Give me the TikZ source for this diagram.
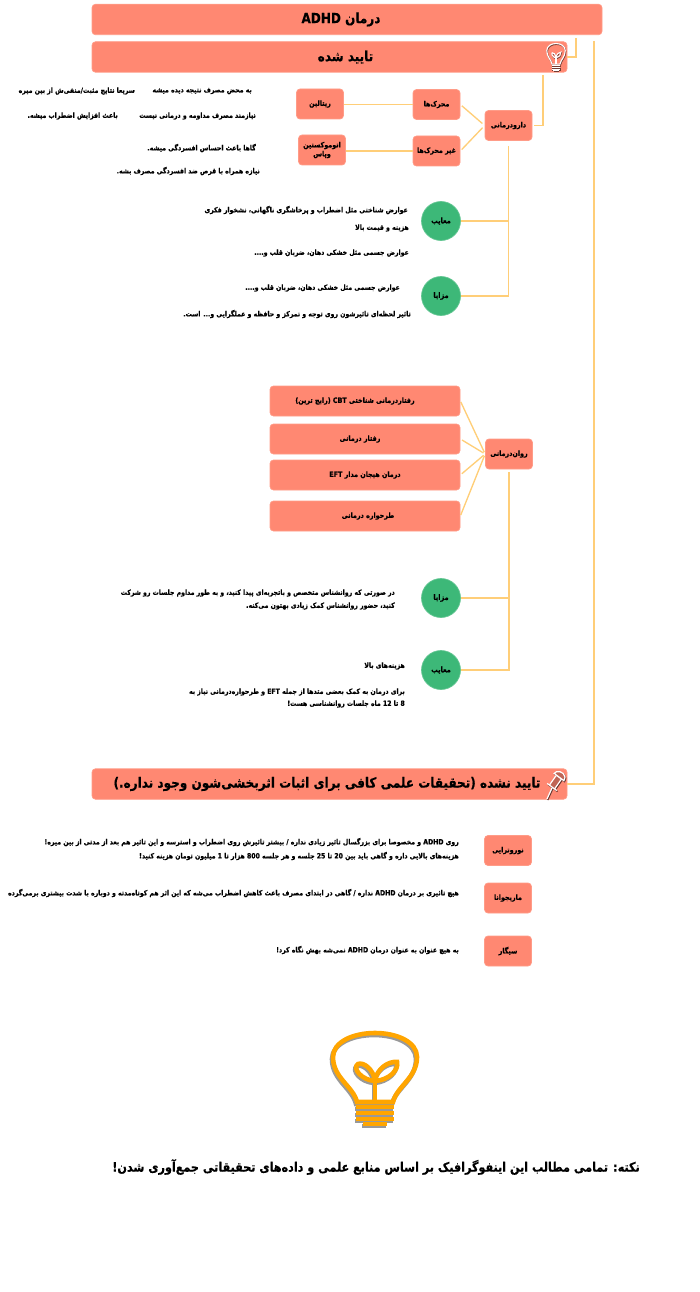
\documentclass[tikz,border=0pt]{standalone}
\usepackage{fontspec}
\TeXXeTstate=1
\newfontfamily\fafont[Script=Arabic,FakeStretch=0.86,BoldFeatures={FakeBold=0.4}]{DejaVu Sans}
\newcommand{\fatxt}[1]{\beginR #1\endR{}}
\newcommand{\latn}[1]{\beginL #1\endL{}}
\definecolor{boxfill}{HTML}{FF8872}
\definecolor{boxedge}{HTML}{FF9C88}
\definecolor{roundfill}{HTML}{3DB878}
\definecolor{linkcol}{HTML}{FFCE78}
\definecolor{bulbcol}{HTML}{FFA500}
\tikzset{
    boxbase/.style={rectangle,rounded corners=3.5pt,fill=boxfill,draw=boxedge,line width=0.7pt,inner sep=0pt,align=center,text=black,font=\fafont\bfseries\fontsize{7.4}{9}\selectfont},
    smallbox/.style={boxbase,minimum width=47pt,minimum height=30pt},
    widebox/.style={boxbase,minimum width=190pt,minimum height=30pt},
    titlebox/.style={boxbase,minimum height=30.5pt,font=\fafont\bfseries\fontsize{14}{16}\selectfont},
    roundbox/.style={circle,fill=roundfill,draw=roundfill!80!white,line width=0.7pt,minimum size=39pt,inner sep=0pt,text=black,font=\fafont\bfseries\fontsize{7.6}{9}\selectfont},
    txtline/.style={anchor=east,inner sep=0pt,text=black,font=\fafont\bfseries\fontsize{7.2}{9}\selectfont},
    link/.style={draw=linkcol,line width=1.35pt},
    bulb/.pic={
        \draw[pic actions] (-18,24) .. controls (-22,8) and (-42,0) .. (-42,-21) .. controls (-42,-36) and (-22,-45) .. (0,-45) .. controls (22,-45) and (42,-36) .. (42,-21) .. controls (42,0) and (22,8) .. (18,24) -- cycle;
        \draw[pic actions] (0,24) -- (0,3);
        \draw[pic actions] (0,3) .. controls (-2,-10) and (-12,-16) .. (-17,-14) .. controls (-23,-10) and (-14,2) .. (0,3);
        \draw[pic actions] (0,3) .. controls (2,-10) and (14,-17) .. (22,-16) .. controls (24,-8) and (14,2) .. (0,3);
        \draw[pic actions] (-19,29) -- (19,29);
        \draw[pic actions] (-19,35) -- (19,35);
        \draw[pic actions] (-19,41) -- (19,41);
        \draw[pic actions] (-12,46) -- (12,46);
    },
    pushpin/.pic={
        \draw[pic actions] (-9,15) -- (-4,4);
        \draw[pic actions] (-6.5,1) -- (0.5,-9) -- (5.5,-5) -- (-1.5,5);
        \draw[pic actions] (-8.8,-0.6) -- (0.8,6.6);
        \draw[pic actions] (-1.8,-10.6) .. controls (0,-14) and (8,-13) .. (9,-7) .. controls (9,-5) and (8,-4) .. (7.8,-3.4) -- cycle;
    },
}
\begin{document}
\begin{tikzpicture}[x=1pt,y=-1pt]
    \useasboundingbox (0,0) rectangle (700,1292);
    % title bars
    \node[titlebox,minimum width=510pt] (root) at (347,19.5) {\fatxt{درمان \latn{ADHD}}\hspace*{12pt}};
    \node[titlebox,minimum width=475pt] (conf) at (329.5,57) {\hspace*{32pt}\fatxt{تایید شده}};
    \node[titlebox,minimum width=475pt] (nconf) at (329.5,784) {\fatxt{تایید نشده (تحقیقات علمی کافی برای اثبات اثربخشی‌شون وجود نداره.)}\hspace*{5pt}};
    \coordinate (rootdrop) at (576,38);
    \coordinate (rootfar) at (594,41);
    \coordinate (conffar) at (543,75);
    \draw[link] (rootdrop) |- (conf.east);
    \draw[link] (rootfar) |- (nconf.east);
    % icons
    \path (374,1080) pic[draw=black!40,line width=4.6pt] {bulb};
    \path (375,1078) pic[draw=bulbcol,line width=4.6pt] {bulb};
    \path (556.5,57.8) pic[draw=black!55!boxfill,line width=1.2pt,x=0.22pt,y=-0.3pt] {bulb};
    \path (556,57) pic[draw=white,line width=1.1pt,x=0.22pt,y=-0.3pt] {bulb};
    \path (556.7,785) pic[draw=black!60!boxfill,line width=1.3pt] {pushpin};
    \path (556,784) pic[draw=white,fill=black!25!boxfill,line width=1.2pt] {pushpin};
    % drug branch
    \node[smallbox] (drug) at (508.5,125.5) {\fatxt{دارودرمانی}};
    \node[smallbox] (stim) at (436.5,104.5) {\fatxt{محرک‌ها}};
    \node[smallbox] (nstim) at (436.5,151) {\fatxt{غیر محرک‌ها}};
    \node[smallbox] (rital) at (320,104) {\fatxt{ریتالین}};
    \node[smallbox] (atom) at (322,150) {\fatxt{اتوموکستین}\\\fatxt{وپاس}};
    \node[roundbox] (consA) at (441,221) {\fatxt{معایب}};
    \node[roundbox] (prosA) at (441,296) {\fatxt{مزایا}};
    \draw[link,shorten >=2pt] (conffar) |- (drug.east);
    \draw[link,shorten <=3pt,shorten >=2pt] (drug.west) -- (stim.east);
    \draw[link,shorten <=3pt,shorten >=2pt] (drug.west) -- (nstim.east);
    \draw[link] (stim.west) -- (stim.west -| rital.east);
    \draw[link] (nstim.west) -- (nstim.west -| atom.east);
    \draw[link,shorten <=5pt] (drug.south) |- (prosA.east);
    \draw[link] (consA.east) -- (consA.east -| drug.south);
    \node[txtline] (ta) at (252,91) {\fatxt{به محض مصرف نتیجه دیده میشه}};
    \node[txtline] (tb) at (135,91) {\fatxt{سریعا نتایج مثبت/منفی‌ش از بین میره}};
    \node[txtline] (tc) at (256,116) {\fatxt{نیازمند مصرف مداومه و درمانی نیست}};
    \node[txtline] (td) at (118,116) {\fatxt{باعث افزایش اضطراب میشه.}};
    \node[txtline] (te) at (256,148) {\fatxt{گاها باعث احساس افسردگی میشه.}};
    \node[txtline] (tf) at (260,171) {\fatxt{نیازه همراه با قرص ضد افسردگی مصرف بشه.}};
    \node[txtline] (tg) at (408,210) {\fatxt{عوارض شناختی مثل اضطراب و پرخاشگری ناگهانی، نشخوار فکری}};
    \node[txtline] (th) at (409,228) {\fatxt{هزینه و قیمت بالا}};
    \node[txtline] (ti) at (409,253) {\fatxt{عوارض جسمی مثل خشکی دهان، ضربان قلب و....}};
    \node[txtline] (tj) at (400,288) {\fatxt{عوارض جسمی مثل خشکی دهان، ضربان قلب و....}};
    \node[txtline] (tk) at (411,314) {\fatxt{تاثیر لحظه‌ای تاثیرشون روی توجه و تمرکز و حافظه و عملگرایی و... است.}};
    % therapy branch
    \node[smallbox] (psy) at (509,454) {\fatxt{روان‌درمانی}};
    \node[widebox] (cbt) at (365,401) {\fatxt{رفتاردرمانی شناختی \latn{CBT} (رایج ترین)}\hspace*{20pt}};
    \node[widebox] (behav) at (365,439) {\fatxt{رفتار درمانی}\hspace*{10pt}};
    \node[widebox] (eft) at (365,475) {\fatxt{درمان هیجان مدار \latn{EFT}}};
    \node[widebox] (schema) at (365,516) {\hspace*{6pt}\fatxt{طرحواره درمانی}};
    \node[roundbox] (prosB) at (441,598) {\fatxt{مزایا}};
    \node[roundbox] (consB) at (441,670) {\fatxt{معایب}};
    \draw[link,shorten <=2pt,shorten >=1pt] (psy.west) -- (cbt.east);
    \draw[link,shorten <=2pt,shorten >=2pt] (psy.west) -- (behav.east);
    \draw[link,shorten <=2pt,shorten >=2pt] (psy.west) -- (eft.east);
    \draw[link,shorten <=2pt,shorten >=1pt] (psy.west) -- (schema.east);
    \draw[link,shorten <=3pt] (psy.south) |- (consB.east);
    \draw[link] (prosB.east) -- (prosB.east -| psy.south);
    \node[txtline] (tl) at (395,593) {\fatxt{در صورتی که روانشناس متخصص و باتجربه‌ای پیدا کنید، و به طور مداوم جلسات رو شرکت}};
    \node[txtline] (tm) at (395,606) {\fatxt{کنید، حضور روانشناس کمک زیادی بهتون می‌کنه.}};
    \node[txtline] (tn) at (405,666) {\fatxt{هزینه‌های بالا}};
    \node[txtline] (to) at (405,692) {\fatxt{برای درمان به کمک بعضی متدها از جمله \latn{EFT} و طرحواره‌درمانی نیاز به}};
    \node[txtline] (tp) at (405,704) {\fatxt{\latn{8} تا \latn{12} ماه جلسات روانشناسی هست!}};
    % not confirmed
    \node[smallbox] (neuro) at (508,850.5) {\fatxt{نوروترایی}};
    \node[smallbox] (mari) at (508,898) {\fatxt{ماریجوانا}};
    \node[smallbox] (smoke) at (508,951) {\fatxt{سیگار}};
    \node[txtline] (tq) at (459,842) {\fatxt{روی \latn{ADHD} و مخصوصا برای بزرگسال تاثیر زیادی نداره / بیشتر تاثیرش روی اضطراب و استرسه و این تاثیر هم بعد از مدتی از بین میره!}};
    \node[txtline] (tr) at (459,856) {\fatxt{هزینه‌های بالایی داره و گاهی باید بین \latn{20} تا \latn{25} جلسه و هر جلسه \latn{800} هزار تا \latn{1} میلیون تومان هزینه کنید!}};
    \node[txtline] (ts) at (459,893) {\fatxt{هیچ تاثیری بر درمان \latn{ADHD} نداره / گاهی در ابتدای مصرف باعث کاهش اضطراب می‌شه که این اثر هم کوتاه‌مدته و دوباره با شدت بیشتری برمی‌گرده}};
    \node[txtline] (tt) at (459,950) {\fatxt{به هیچ عنوان به عنوان درمان \latn{ADHD} نمی‌شه بهش نگاه کرد!}};
    % note
    \node[txtline,font=\fafont\bfseries\fontsize{13}{15}\selectfont] (note) at (640,1167) {\fatxt{نکته: تمامی مطالب این اینفوگرافیک بر اساس منابع علمی و داده‌های تحقیقاتی جمع‌آوری شدن!}};
\end{tikzpicture}
\end{document}
